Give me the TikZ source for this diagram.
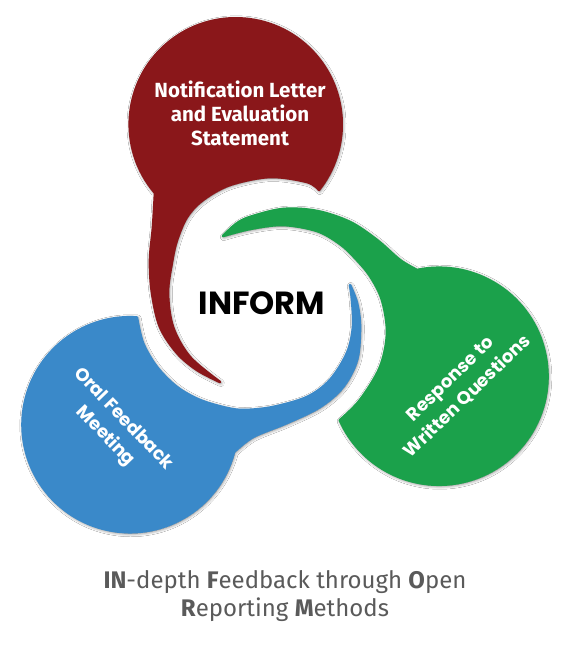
\documentclass[tikz,border=0pt]{standalone}
\usepackage{fontspec}
\setmainfont{Fira Sans}
\newfontfamily\geofont{Poppins}
\usetikzlibrary{shadows.blur}
\definecolor{informred}{HTML}{8A171A}
\definecolor{informgreen}{HTML}{1BA14B}
\definecolor{informblue}{HTML}{3A89C9}
\definecolor{captiongray}{HTML}{5A5A5A}
\tikzset{petal/.style={draw=white,line width=2.6pt,line join=round,
 blur shadow={shadow blur steps=8,shadow xshift=0.8pt,shadow yshift=-1pt,shadow blur radius=3.5pt,shadow opacity=60}},
 edge/.style={smooth,tension=0.55},
 petaltext/.style={text=white,align=center,inner sep=0pt},
 geotext/.style={petaltext,font=\geofont\bfseries\fontsize{18}{24.5}\selectfont},
 hub/.style={font=\geofont\bfseries\fontsize{32}{36}\selectfont,inner sep=0pt},
 caption/.style={text=captiongray,align=center,font=\fontsize{24}{28}\selectfont,inner sep=0pt}}

\begin{document}
\begin{tikzpicture}[x=1pt,y=-1pt]
\useasboundingbox[fill=white] (0,0) rectangle (570,652);
\fill[petal,informred] (155,193) arc[start angle=139.6,end angle=398.2,radius=106]
 -- plot[edge] coordinates {(319,190) (307,182) (270,177) (230,185) (203,200) (187,217) (177,240) (172,262) (168,293) (173,327) (190,357) (220,382)}
 -- plot[edge] coordinates {(220,382) (197,370) (177,353) (160,327) (152,293) (150,260) (153,227) (155,193)} -- cycle;
\fill[petal,informgreen] (417,270) arc[start angle=258.3,end angle=516,radius=108.5]
 -- plot[edge] coordinates {(340,420) (360,400) (380,367) (387,333) (382,300) (370,276) (355,258) (340,244) (317,231) (283,225) (250,229) (223,236)}
 -- plot[edge] coordinates {(223,236) (236,224) (250,217) (283,209) (317,211) (350,222) (377,240) (400,260) (417,270)} -- cycle;
\fill[petal,informblue] (234,452) arc[start angle=14.7,end angle=273.7,radius=107.5]
 -- plot[edge] coordinates {(137,318) (143,343) (157,367) (177,387) (200,400) (227,408) (245,410) (273,407) (307,397) (330,380) (347,353) (353,327) (352,300) (350,285)}
 -- plot[edge] coordinates {(350,285) (357,303) (360,327) (357,360) (343,387) (320,407) (287,423) (253,437) (234,452)} -- cycle;
\node[petaltext,font=\bfseries\fontsize{20.5}{24}\selectfont] (letter) at (240,113) {Notification Letter\\and Evaluation\\Statement};
\node[geotext,rotate=44] (written) at (459,388) {Response to\\Written Questions};
\node[geotext,rotate=-46] (oral) at (114,428) {Oral Feedback\\Meeting};
\node[hub] (inform) at (262,303) {INFORM};
\node[caption] (acronym) at (285,596) {\textbf{IN}-depth \textbf{F}eedback through \textbf{O}pen\\\textbf{R}eporting \textbf{M}ethods};
\end{tikzpicture}
\end{document}
